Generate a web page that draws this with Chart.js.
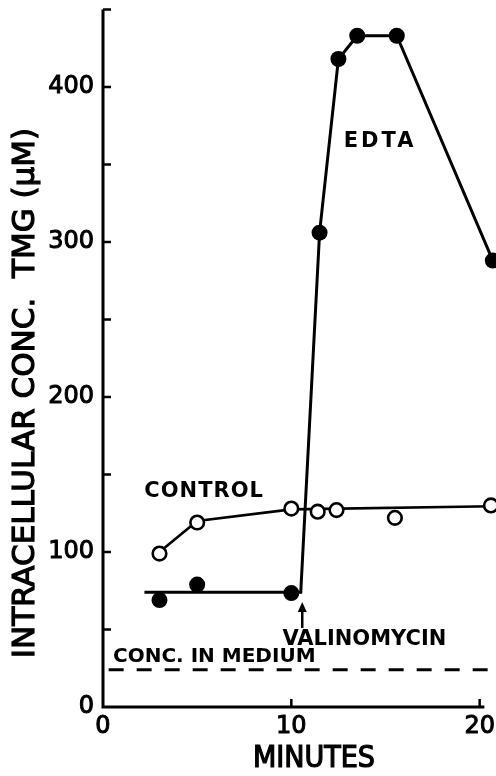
<!DOCTYPE html>
<html>
<head>
<meta charset="utf-8">
<script src="https://cdn.jsdelivr.net/npm/chart.js@4"></script>
<style>
  html, body { margin: 0; padding: 0; background: #fff; overflow: hidden; }
  #wrap { width: 496px; height: 776px; overflow: hidden; }
</style>
</head>
<body>
<div id="wrap"><canvas id="chart" width="506" height="776"></canvas></div>
<script>
// ---- data (minutes, µM) ----
const edtaLineX = [2.2, 10.5, 11.5, 12.5, 13.5, 15.6, 20.7];
const edtaLineY = [74, 74, 306, 418, 433, 433, 288];
const edtaPtX = [3, 5, 10, 11.5, 12.5, 13.5, 15.6, 20.7];
const edtaPtY = [69, 79, 73.5, 306, 418, 433, 433, 288];

const ctrlLineX = [3, 5, 10, 20.7];
const ctrlLineY = [100, 120, 127.5, 129.5];
const ctrlPtX = [3, 5, 10, 11.4, 12.4, 15.5, 20.6];
const ctrlPtY = [99, 119, 128, 126, 127, 122, 130];

const mediumX = [0.3, 20.9];
const mediumY = [24, 24];

const xTicks = [0, 10, 20];
const yTicks = [0, 50, 100, 150, 200, 250, 300, 350, 400];
const yLabelled = [0, 100, 200, 300, 400];

const pts = (xs, ys) => xs.map((x, i) => ({ x, y: ys[i] }));

const NARROW = "'DejaVu Sans Condensed', 'DejaVu Sans', sans-serif";
const FONT = "'DejaVu Sans', sans-serif";

// heavier text: fill plus a thin outline
function boldText(ctx, str, x, y, w) {
    ctx.fillText(str, x, y);
    ctx.lineWidth = w;
    ctx.strokeText(str, x, y);
}

// axes drawn by hand: ticks point inward, x axis stops short of the edge
const axesPlugin = {
    id: 'oldAxes',
    beforeDatasetsDraw(chart) {
        const { ctx, scales: { x, y } } = chart;
        const x0 = x.getPixelForValue(0), y0 = y.getPixelForValue(0);
        ctx.save();
        ctx.strokeStyle = '#000';
        ctx.lineWidth = 3;
        ctx.lineCap = 'butt';
        ctx.beginPath();
        ctx.moveTo(x0, y.getPixelForValue(450));
        ctx.lineTo(x0, y0);
        ctx.lineTo(x.getPixelForValue(20.25), y0);
        ctx.stroke();
        ctx.lineWidth = 2.5;
        ctx.beginPath();
        yTicks.concat([450]).forEach(v => {
            if (v === 0) return;
            const py = y.getPixelForValue(v);
            ctx.moveTo(x0, py);
            ctx.lineTo(x0 + 8, py);
        });
        xTicks.forEach(v => {
            if (v === 0) return;
            const px = x.getPixelForValue(v);
            ctx.moveTo(px, y0);
            ctx.lineTo(px, y0 - 8);
        });
        ctx.stroke();
        ctx.restore();
    },
    afterDatasetsDraw(chart) {
        const { ctx, scales: { x, y } } = chart;
        ctx.save();
        ctx.fillStyle = '#000';
        ctx.strokeStyle = '#000';
        ctx.textBaseline = 'middle';

        // curve labels
        ctx.textAlign = 'center';
        ctx.font = `bold 21px ${FONT}`;
        ctx.letterSpacing = '3px';
        ctx.fillText('EDTA', x.getPixelForValue(14.63) + 1.5, y.getPixelForValue(364.5));
        ctx.letterSpacing = '1px';
        ctx.fillText('CONTROL', x.getPixelForValue(5.37), y.getPixelForValue(138.7));
        ctx.letterSpacing = '0px';
        ctx.fillText('VALINOMYCIN', x.getPixelForValue(13.88), y.getPixelForValue(43.2));
        ctx.font = `bold 20px ${FONT}`;
        ctx.textAlign = 'left';
        ctx.fillText('CONC. IN MEDIUM', x.getPixelForValue(0.53), y.getPixelForValue(32.3));

        // valinomycin arrow
        const ax = x.getPixelForValue(10.58);
        const tip = y.getPixelForValue(67.7), tail = y.getPixelForValue(51);
        ctx.lineWidth = 2.5;
        ctx.beginPath();
        ctx.moveTo(ax, tail);
        ctx.lineTo(ax, tip + 6);
        ctx.stroke();
        ctx.beginPath();
        ctx.moveTo(ax, tip);
        ctx.lineTo(ax - 4.5, tip + 10);
        ctx.lineTo(ax + 4.5, tip + 10);
        ctx.closePath();
        ctx.fill();

        // axis titles
        ctx.textAlign = 'center';
        ctx.font = `30px ${NARROW}`;
        boldText(ctx, 'MINUTES', 314, 759, 1.2);
        ctx.translate(26, 393);
        ctx.rotate(-Math.PI / 2);
        ctx.font = `31px ${FONT}`;
        boldText(ctx, 'INTRACELLULAR CONC.  TMG (\u03BCM)', 0, 0, 1.2);
        ctx.restore();
    }
};

new Chart(document.getElementById('chart'), {
    type: 'scatter',
    data: {
        datasets: [
            {
                label: 'EDTA points', data: pts(edtaPtX, edtaPtY), order: 1,
                pointRadius: 8, pointBackgroundColor: '#000', pointBorderColor: '#000', pointBorderWidth: 0,
                showLine: false, clip: false
            },
            {
                label: 'Control points', data: pts(ctrlPtX, ctrlPtY), order: 2,
                pointRadius: 6.8, pointBackgroundColor: '#fff', pointBorderColor: '#000', pointBorderWidth: 2.6,
                showLine: false, clip: false
            },
            {
                label: 'EDTA', data: pts(edtaLineX, edtaLineY), order: 3,
                showLine: true, borderColor: '#000', borderWidth: 3, pointRadius: 0, tension: 0
            },
            {
                label: 'Control', data: pts(ctrlLineX, ctrlLineY), order: 4,
                showLine: true, borderColor: '#000', borderWidth: 2.6, pointRadius: 0, tension: 0
            },
            {
                label: 'Conc. in medium', data: pts(mediumX, mediumY), order: 5,
                showLine: true, borderColor: '#000', borderWidth: 3, borderDash: [15, 13], pointRadius: 0
            }
        ]
    },
    options: {
        responsive: false,
        animation: false,
        events: [],
        layout: { padding: { top: 9, right: 0, left: 0, bottom: 0 } },
        plugins: { legend: { display: false }, tooltip: { enabled: false } },
        scales: {
            x: {
                type: 'linear', min: 0, max: 20.9,
                grid: { display: false, drawTicks: false }, border: { display: false },
                afterBuildTicks: s => { s.ticks = xTicks.map(v => ({ value: v })); },
                afterFit: s => { s.height = 69; s.paddingLeft = 0; s.paddingRight = 0; },
                ticks: {
                    color: '#000', font: { family: FONT, size: 24 }, padding: 5, maxRotation: 0, autoSkip: false,
                    textStrokeColor: '#000', textStrokeWidth: 1
                }
            },
            y: {
                type: 'linear', min: 0, max: 450,
                grid: { display: false, drawTicks: false }, border: { display: false },
                afterBuildTicks: s => { s.ticks = yTicks.map(v => ({ value: v })); },
                afterFit: s => { s.width = 103; s.paddingTop = 0; s.paddingBottom = 0; },
                ticks: {
                    color: '#000', font: { family: FONT, size: 24 }, padding: 9, autoSkip: false,
                    textStrokeColor: '#000', textStrokeWidth: 1,
                    callback: v => yLabelled.includes(v) ? String(v) : ''
                }
            }
        }
    },
    plugins: [axesPlugin]
});
</script>
</body>
</html>
